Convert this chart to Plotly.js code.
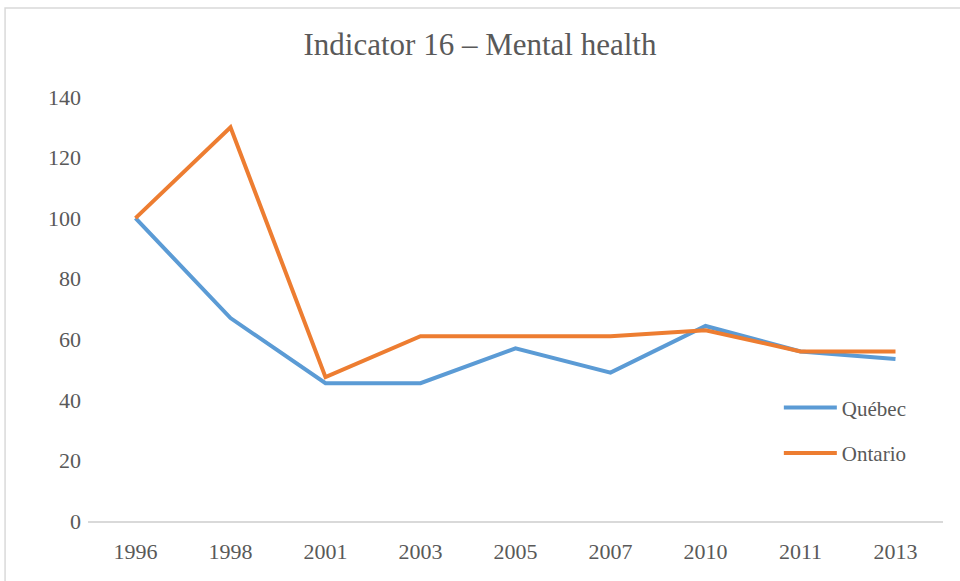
<!DOCTYPE html>
<html>
<head>
<meta charset="utf-8">
<script src="https://cdn.plot.ly/plotly-3.0.1.min.js"></script>
<style>html,body{margin:0;padding:0;background:#fff;}#chart{width:960px;height:581px;}</style>
</head>
<body>
<div id="chart"></div>
<script>
const years = ["1996", "1998", "2001", "2003", "2005", "2007", "2010", "2011", "2013"];
const quebec = [100, 67, 45.5, 45.5, 57, 49, 64.4, 56, 53.5];
const ontario = [100, 130, 47.5, 61, 61, 61, 63, 56, 56];
const yTicks = [0, 20, 40, 60, 80, 100, 120, 140];

const fontFam = '"Liberation Serif", "DejaVu Serif", serif';

const traces = [
  {x: years, y: quebec, name: "Québec", type: "scatter", mode: "lines",
   line: {color: "#5B9BD5", width: 4}, legendgroup: "q"},
  {x: years, y: ontario, name: "Ontario", type: "scatter", mode: "lines",
   line: {color: "#ED7D31", width: 4}, legendgroup: "o"}
];

const layout = {
  width: 960, height: 581,
  margin: {l: 88, r: 17, t: 97, b: 60},
  paper_bgcolor: "#fff", plot_bgcolor: "#fff",
  title: {text: "Indicator 16 – Mental health", x: 0.5, xanchor: "center", y: 0.942, yanchor: "top",
          font: {family: fontFam, size: 31, color: "#595959"}},
  xaxis: {type: "category", range: [-0.5, 8.5], showgrid: false, zeroline: false,
          showline: true, linecolor: "#D9D9D9", linewidth: 1.5,
          ticks: "", ticklabelstandoff: 10,
          tickfont: {family: fontFam, size: 22, color: "#595959"}, fixedrange: true},
  yaxis: {range: [0, 140], tickvals: yTicks, showgrid: false, zeroline: false, showline: false,
          ticks: "", ticklabelstandoff: 6,
          tickfont: {family: fontFam, size: 22, color: "#595959"}, fixedrange: true},
  showlegend: true,
  legend: {x: 0.808, xanchor: "left", y: 0.315, yanchor: "top", bgcolor: "rgba(0,0,0,0)",
           font: {family: fontFam, size: 21, color: "#595959"}, tracegroupgap: 15, itemwidth: 53},
  shapes: [
    {type: "rect", xref: "paper", yref: "paper", x0: -0.097, x1: 1.1, y0: -0.3, y1: 1.21,
     line: {color: "#D9D9D9", width: 1.5}, fillcolor: "rgba(0,0,0,0)", layer: "below"}
  ]
};

Plotly.newPlot("chart", traces, layout, {displayModeBar: false, staticPlot: true});
</script>
</body>
</html>
